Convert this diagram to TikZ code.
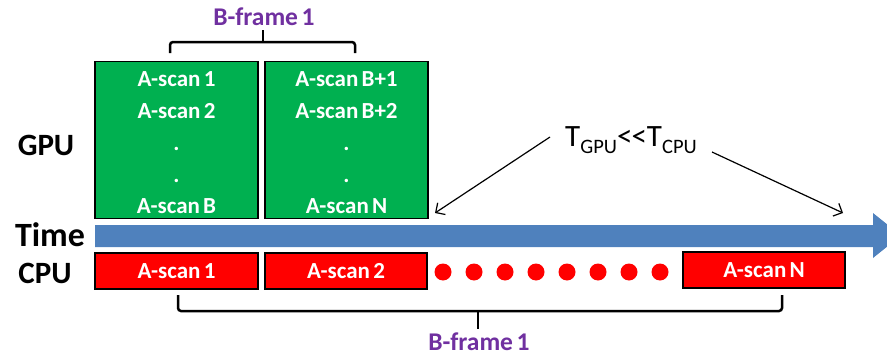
\documentclass[tikz,border=0pt]{standalone}
\usepackage{fontspec}
\setmainfont{Carlito}
\usetikzlibrary{arrows.meta}
\definecolor{gpugreen}{HTML}{00B050}
\definecolor{cpured}{HTML}{FF0000}
\definecolor{timeblue}{HTML}{4F81BD}
\definecolor{framepurple}{HTML}{7030A0}
% narrow word gap used in the scan labels
\newcommand\gap{\hspace{0.14em}}
\tikzset{
  gpubox/.style={draw=black, line width=1.8pt, fill=gpugreen, inner sep=0pt},
  cpubox/.style={draw=black, line width=1.8pt, fill=cpured, inner sep=0pt,
    text=white, font=\bfseries\fontsize{23}{26}\selectfont},
  scanline/.style={text=white, anchor=base, inner sep=0pt,
    font=\bfseries\fontsize{23}{26}\selectfont},
  rowlabel/.style={font=\bfseries\fontsize{31}{34}\selectfont, inner sep=0pt},
  framelabel/.style={text=framepurple, font=\bfseries\fontsize{25.5}{28}\selectfont, inner sep=0pt},
  bracket/.style={draw=black, line width=2.5pt, rounded corners=3pt},
  pointer/.style={draw=black, line width=1.2pt, -{Straight Barb[length=7pt,width=14pt]}},
  reddot/.style={circle, fill=cpured, minimum size=17pt, inner sep=0pt}
}
\begin{document}
\begin{tikzpicture}[x=1pt,y=-1pt]
\useasboundingbox (0,0) rectangle (887,356);

% GPU frames
\node[gpubox, minimum width=163pt, minimum height=157pt] (g1) at (176.5,140) {};
\node[gpubox, minimum width=163pt, minimum height=157pt] (g2) at (346.5,140) {};
\foreach \t/\yy [count=\i] in {A-scan\gap 1/86, A-scan\gap 2/118, ./150, ./182, A-scan\gap B/213}
  \node[scanline] (g1l\i) at (176.5,\yy) {\t};
\foreach \t/\yy [count=\i] in {A-scan\gap B+1/86, A-scan\gap B+2/118, ./150, ./182, A-scan\gap N/213}
  \node[scanline] (g2l\i) at (346.5,\yy) {\t};

% row labels
\node[rowlabel] (gpu) at (46,145) {GPU};
\node[rowlabel, font=\bfseries\fontsize{34}{36}\selectfont] (time) at (50,235) {Time};
\node[rowlabel] (cpu) at (45,273) {CPU};

% time axis
\fill[timeblue] (95,225) -- (873,225) -- (873,213) -- (901,235.5)
  -- (873,258) -- (873,247) -- (95,247) -- cycle;

% CPU scans
\node[cpubox, minimum width=163pt, minimum height=36pt] (c1) at (176.5,271) {A-scan\gap 1};
\node[cpubox, minimum width=162pt, minimum height=36pt] (c2) at (346,271) {A-scan\gap 2};
\node[cpubox, minimum width=162pt, minimum height=36pt] (cn) at (764,270) {A-scan\gap N};
\foreach \k in {0,...,7}
  \node[reddot] (dot\k) at ({443+31*\k},272) {};

% upper bracket
\coordinate (ub1) at (170,53);
\coordinate (ub2) at (355,53);
\coordinate (ubm) at (263,42);
\coordinate (ubt) at (263,30);
\draw[bracket] (ub1) |- (ubm) -| (ub2);
\draw[bracket, rounded corners=0pt] (ubm) -- (ubt);
\node[framelabel] (bf1) at (264,17) {B-frame\gap 1};

% lower bracket
\coordinate (lb1) at (178,295);
\coordinate (lb2) at (782,295);
\coordinate (lbm) at (478,311);
\coordinate (lbt) at (478,329);
\draw[bracket] (lb1) |- (lbm) -| (lb2);
\draw[bracket, rounded corners=0pt] (lbm) -- (lbt);
\node[framelabel] (bf2) at (479,342) {B-frame\gap 1};

% timing comparison
\node[inner sep=0pt, font=\fontsize{31}{33}\selectfont] (tcmp) at (631,140)
  {T\raisebox{-0.22em}{\fontsize{20.5}{21}\selectfont GPU}{<}\kern-0.03em{<}T\raisebox{-0.22em}{\fontsize{20.5}{21}\selectfont CPU}};
\coordinate (ta) at (550,137);
\coordinate (tb) at (712,152);
\coordinate (gpuend) at (435,213);
\coordinate (cpuend) at (843,213);
\draw[pointer] (ta) -- (gpuend);
\draw[pointer] (tb) -- (cpuend);
\end{tikzpicture}
\end{document}
